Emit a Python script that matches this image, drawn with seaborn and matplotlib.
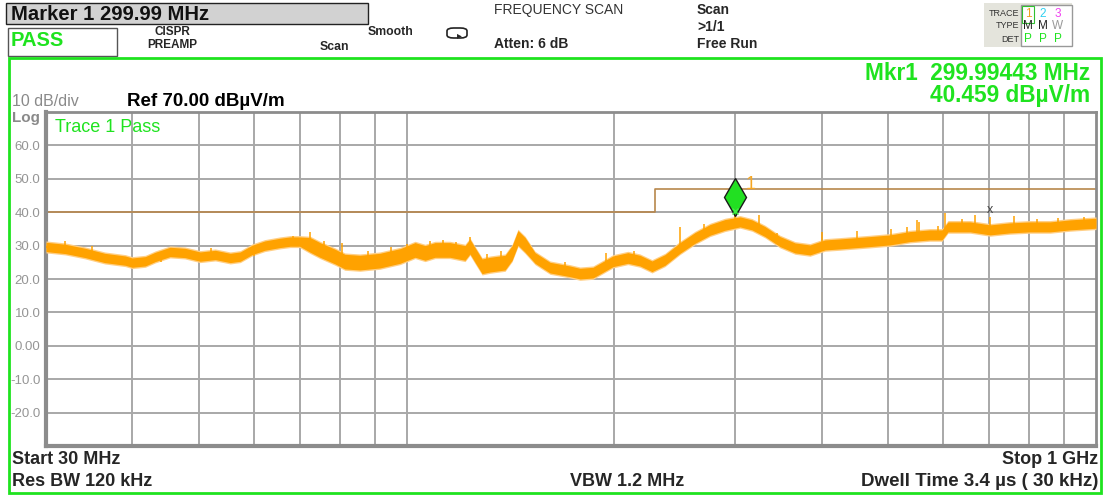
import numpy as np
import pandas as pd
import matplotlib
matplotlib.use("Agg")
import matplotlib.pyplot as plt
import matplotlib.patches as mpatches
import matplotlib.transforms as mtrans
from matplotlib.ticker import FixedLocator, NullFormatter, NullLocator
import seaborn as sns

# ---------------- data ----------------
freq_mhz = [30, 32, 34.2, 36.5, 39.1, 40, 41.8, 43.2, 45.4, 47.7, 50.2, 52.8, 55.5, 57.4,
            59.7, 62.3, 65.5, 67.8, 70, 72.5, 74.9, 78.8, 81.4, 85.6, 91.5, 97.9, 102.9,
            106.4, 110, 115.6, 121.6, 123.6, 125.7, 128.7, 132.2, 139, 142.3, 145.1, 148.6,
            153.6, 161.5, 172.6, 178.5, 186.4, 199.3, 209.5, 218.1, 227, 237.1, 249.3,
            262.1, 275.6, 289.7, 304.6, 317, 331.1, 348.1, 366, 384.8, 404.5, 425.3, 470,
            502.6, 537, 574, 598, 610, 657, 702, 750, 802, 858, 917, 1000]
level_db = [29.6, 29.0, 27.8, 26.3, 25.5, 24.9, 25.3, 26.6, 28.1, 27.8, 26.7, 27.2, 26.3, 26.7,
            28.7, 30.0, 30.8, 31.2, 31.2, 30.2, 28.7, 26.7, 25.2, 24.9, 25.5, 26.9, 28.7,
            27.8, 28.7, 28.7, 27.8, 29.7, 27.2, 23.8, 24.3, 24.9, 27.8, 32.3, 30.2,
            26.3, 23.4, 22.3, 21.6, 21.9, 25.3, 26.3, 25.5, 23.8, 25.7, 29.3,
            32.3, 34.7, 36.2, 37.1, 36.2, 34.2, 31.2, 29.3, 28.7, 30.2, 30.5, 31.2,
            31.7, 32.7, 33.2, 33.2, 35.6, 35.6, 34.7, 35.3, 35.6, 35.6, 36.2, 36.7]
spread_db = [1.4] * 19 + [2.2] * 20 + [1.6] * 14 + [1.5] * 21

spike_freq = [32, 35, 44, 52, 60, 68.5, 72.5, 76, 80.5, 88, 95, 100, 108, 113, 118, 123.6,
              131, 137, 145, 152, 170, 195, 214, 249, 270, 300, 324.5, 345, 400, 450, 505,
              532, 550, 554, 590, 604, 640, 667, 702, 761, 820, 880, 960]
spike_base = [29, 27, 25, 26, 27, 31, 30, 28, 26, 25, 26, 27.5, 28, 28.5, 28, 29,
              24, 24.5, 31, 26, 22, 24, 25, 29, 33, 37.5, 35.5, 31, 30, 31, 31.5,
              32.5, 33, 33, 33, 34, 35.5, 35.6, 34.7, 35.3, 35.5, 35.8, 36.5]
spike_top = [31.5, 29.8, 28.0, 29.3, 30.0, 33.0, 34.0, 31.5, 30.8, 28.5, 29.5, 30.5, 31.5,
             31.8, 31.0, 32.5, 27.5, 28.5, 33.5, 29.0, 25.0, 27.8, 28.5, 35.6, 36.5, 40.4,
             39.1, 33.8, 34.2, 34.5, 35.0, 35.6, 37.6, 37.1, 36.0, 39.7, 38.0, 39.1, 38.6,
             38.9, 38.0, 38.2, 38.5]

limit_freq = [30, 229, 229, 1000]
limit_db = [40, 40, 47, 47]

marker_freq = 299.99443
marker_db = 40.459

y_ticks = [60, 50, 40, 30, 20, 10, 0, -10, -20]
y_labels = ["60.0", "50.0", "40.0", "30.0", "20.0", "10.0", "0.00", "-10.0", "-20.0"]
x_grid = [40, 50, 60, 70, 80, 90, 100, 200, 300, 400, 500, 600, 700, 800, 900]

# ---------------- figure ----------------
sns.set_style("white")
plt.rcParams["font.family"] = ["Liberation Sans", "DejaVu Sans"]

W, H = 1106, 497
fig = plt.figure(figsize=(W / 100, H / 100), dpi=100)
fig.patch.set_facecolor("white")


def fx(x):
    return x / W


def fy(y):
    return 1 - y / H


GREEN = "#1fe31f"
GRAY = "#8c8c8c"
TRACE = "#ffa200"

ax = fig.add_axes([fx(46), fy(446), fx(1096) - fx(46), fy(112) - fy(446)])
ax.set_xscale("log")
ax.set_xlim(30, 1000)
ax.set_ylim(-30, 70)

df = pd.DataFrame({"f": freq_mhz, "v": level_db, "s": spread_db})
lo = df["v"] - df["s"]
hi = df["v"] + df["s"]
ax.fill_between(df["f"], lo - 0.4, hi + 0.4, color="#ffcf85", lw=0, zorder=3)
ax.fill_between(df["f"], lo, hi, color=TRACE, lw=0, zorder=4)
sns.lineplot(data=df, x="f", y="v", ax=ax, color=TRACE, lw=1.5, zorder=5)
ax.vlines(spike_freq, spike_base, spike_top, color=TRACE, lw=1.1, zorder=5)

ax.plot(limit_freq, limit_db, color="#b8874c", lw=1.2, zorder=2)

ax.xaxis.set_major_locator(FixedLocator(x_grid))
ax.xaxis.set_minor_locator(NullLocator())
ax.xaxis.set_major_formatter(NullFormatter())
ax.xaxis.set_minor_formatter(NullFormatter())
ax.set_yticks(y_ticks)
ax.set_yticklabels(y_labels)
ax.tick_params(axis="both", length=0)
ax.tick_params(axis="y", labelsize=9.5, labelcolor="#959595", pad=4)
ax.grid(True, color="#a8a8a8", lw=1.4, zorder=1)
ax.set_axisbelow(True)
ax.set_xlabel("")
ax.set_ylabel("")
for side, sp in ax.spines.items():
    sp.set_color(GRAY)
    sp.set_linewidth(3 if side in ("left", "bottom") else 2)

# marker
off = mtrans.offset_copy(ax.transData, fig=fig, x=0, y=9.5, units="points")
ax.plot([marker_freq], [marker_db], marker="d", ms=19, mfc="#22e022", mec="#1a1a1a",
        mew=1, transform=off, zorder=8, ls="none")
ax.plot([marker_freq], [marker_db], marker="x", ms=4, mec="#44ee44", mew=1, zorder=8,
        ls="none")
off2 = mtrans.offset_copy(ax.transData, fig=fig, x=7, y=19, units="points")
ax.text(marker_freq, marker_db, "1", color="#f5a623", fontsize=13, transform=off2,
        va="center", ha="left", zorder=8)
ax.text(702, 40.6, "x", color="#444444", fontsize=9, ha="center", va="center", zorder=8)

fig.text(fx(55), fy(128), "Trace 1 Pass", color=GREEN, fontsize=13, va="center",
         ha="left")

# outer green frame (drawn behind the texts)
fig.patches.append(mpatches.Rectangle((fx(9), fy(493)), fx(1101) - fx(9),
                                      fy(58) - fy(493), fill=False, ec=GREEN, lw=2,
                                      transform=fig.transFigure, figure=fig))

# texts inside frame
fig.text(fx(12), fy(101), "10 dB/div", color="#8a8a8a", fontsize=11.5, va="center")
fig.text(fx(12), fy(118), "Log", color="#8a8a8a", fontsize=11, va="center",
         fontweight="bold")
fig.text(fx(127), fy(101), "Ref 70.00 dBµV/m", color="black", fontsize=13.5,
         fontweight="bold", va="center")
fig.text(fx(1090), fy(74), "Mkr1  299.99443 MHz", color=GREEN, fontsize=16.3,
         fontweight="bold", va="center", ha="right")
fig.text(fx(1090), fy(96), "40.459 dBµV/m", color=GREEN, fontsize=16.3,
         fontweight="bold", va="center", ha="right")

fig.text(fx(12), fy(460), "Start 30 MHz", fontsize=13, fontweight="bold", va="center")
fig.text(fx(12), fy(481), "Res BW 120 kHz", fontsize=13, fontweight="bold", va="center")
fig.text(fx(627), fy(481), "VBW 1.2 MHz", fontsize=13, fontweight="bold", va="center",
         ha="center")
fig.text(fx(1098), fy(460), "Stop 1 GHz", fontsize=13, fontweight="bold", va="center",
         ha="right")
fig.text(fx(1098), fy(481), "Dwell Time 3.4 µs ( 30 kHz)", fontsize=13.5,
         fontweight="bold", va="center", ha="right")

# header
fig.add_artist(mpatches.Rectangle((fx(6), fy(24)), fx(368) - fx(6), fy(3) - fy(24),
                                  fc="#d2d2d2", ec="#222222", lw=1,
                                  transform=fig.transFigure))
fig.text(fx(11), fy(14), "Marker 1 299.99 MHz", fontsize=14.6, fontweight="bold",
         va="center", color="#111111")
fig.add_artist(mpatches.Rectangle((fx(8), fy(56)), fx(117) - fx(8), fy(28) - fy(56),
                                  fc="white", ec="#555555", lw=1,
                                  transform=fig.transFigure))
fig.text(fx(11), fy(41), "PASS", fontsize=14.5, fontweight="bold", va="center",
         color=GREEN)
fig.text(fx(172), fy(32), "CISPR", fontsize=8.5, fontweight="bold", va="center",
         ha="center")
fig.text(fx(172), fy(45), "PREAMP", fontsize=8.5, fontweight="bold", va="center",
         ha="center")
fig.text(fx(320), fy(47), "Scan", fontsize=8.8, fontweight="bold", va="center")
fig.text(fx(368), fy(32), "Smooth", fontsize=8.8, fontweight="bold", va="center")
fig.add_artist(mpatches.FancyBboxPatch((fx(447), fy(38)), fx(20), fy(28) - fy(38),
                                       boxstyle="round,pad=0,rounding_size=0.006",
                                       fc="white", ec="#222222", lw=1.2,
                                       transform=fig.transFigure))
fig.text(fx(459), fy(35), "▸", fontsize=7, va="center", ha="center",
         family=["DejaVu Sans"])
fig.text(fx(494), fy(10), "FREQUENCY SCAN", fontsize=10, va="center", color="#333333")
fig.text(fx(494), fy(44), "Atten: 6 dB", fontsize=10, fontweight="bold", va="center")
fig.text(fx(697), fy(10), "Scan", fontsize=10, fontweight="bold", va="center")
fig.text(fx(697), fy(27), ">1/1", fontsize=10, fontweight="bold", va="center")
fig.text(fx(697), fy(44), "Free Run", fontsize=10, fontweight="bold", va="center")

# trace box
fig.add_artist(mpatches.Rectangle((fx(984), fy(47)), fx(1072) - fx(984), fy(3) - fy(47),
                                  fc="#e4e4dc", ec="none", transform=fig.transFigure))
fig.add_artist(mpatches.Rectangle((fx(1021), fy(46)), fx(1072) - fx(1021), fy(5) - fy(46),
                                  fc="white", ec="#999999", lw=1,
                                  transform=fig.transFigure))
fig.text(fx(1019), fy(14), "TRACE", fontsize=6.5, va="center", ha="right", color="#333")
fig.text(fx(1019), fy(26), "TYPE", fontsize=6.5, va="center", ha="right", color="#333")
fig.text(fx(1019), fy(39), "DET", fontsize=6.5, va="center", ha="right", color="#333")
for i, (c, t) in enumerate(zip(["#f0a020", "#30d0f0", "#f040f0"], ["1", "2", "3"])):
    fig.text(fx(1028 + 15 * i), fy(14), t, fontsize=8.5, va="center", ha="center", color=c)
for i, t in enumerate(["M", "M", "W"]):
    fig.text(fx(1028 + 15 * i), fy(26), t, fontsize=8.5, va="center", ha="center",
             color="#222" if i < 2 else "#999")
for i in range(3):
    fig.text(fx(1028 + 15 * i), fy(39), "P", fontsize=8.5, va="center", ha="center",
             color=GREEN)
fig.add_artist(mpatches.Rectangle((fx(1022), fy(23)), fx(12), fy(6) - fy(23),
                                  fill=False, ec="#30c030", lw=0.8,
                                  transform=fig.transFigure))

fig.savefig("out.png", dpi=100, facecolor="white")
